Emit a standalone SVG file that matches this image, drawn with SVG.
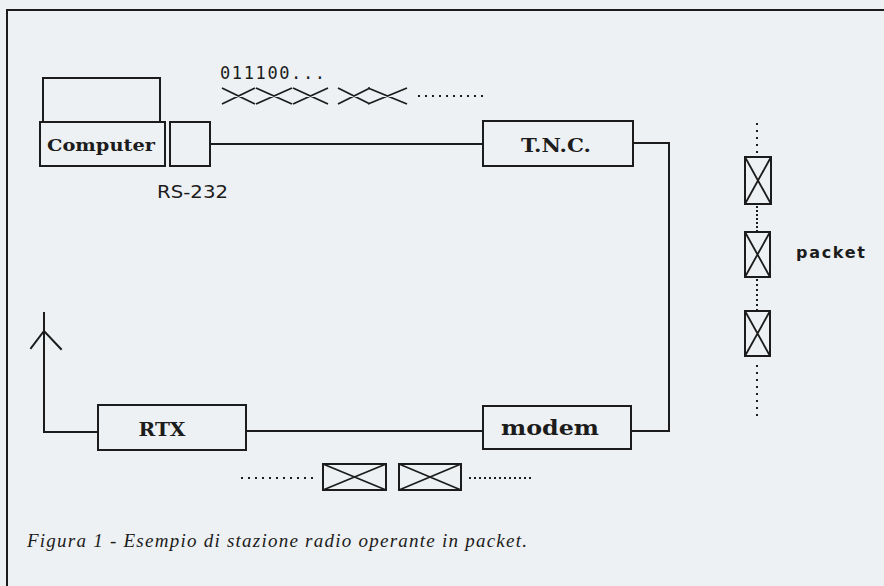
<svg xmlns="http://www.w3.org/2000/svg" width="884" height="586" viewBox="0 0 884 586">
<style>
.ln{fill:none;stroke:#1c1c1c;stroke-width:2;stroke-linecap:square}
.bx{fill:none;stroke:#1c1c1c;stroke-width:2}
.thin{fill:none;stroke:#1c1c1c;stroke-width:1.8}
.dot{fill:none;stroke:#1c1c1c;stroke-width:2;stroke-dasharray:2 5}
.lbl{font-family:"DejaVu Serif","Liberation Serif",serif;font-weight:bold;fill:#1c1c1c;text-anchor:middle}
.mono{font-family:"DejaVu Sans Mono","Liberation Mono",monospace;font-size:17px;fill:#1c1c1c}
.sans{font-family:"DejaVu Sans","Liberation Sans",sans-serif;fill:#1c1c1c}
</style>
<rect x="0" y="0" width="884" height="586" fill="#edf1f3"/>
<g id="frame">
<path class="ln" d="M7 586 V10 H884"/>
</g>
<g id="computer">
<rect class="bx" x="43" y="78" width="117" height="44"/>
<rect class="bx" x="40" y="122" width="125" height="44"/>
<text class="lbl" x="101" y="151" textLength="108" lengthAdjust="spacingAndGlyphs" style="font-size:17px">Computer</text>
</g>
<g id="rs232">
<rect class="bx" x="170" y="122" width="40" height="44"/>
<text class="sans" x="157" y="198" textLength="71" lengthAdjust="spacingAndGlyphs" style="font-size:17px">RS-232</text>
</g>
<g id="tnc">
<rect class="bx" x="483" y="121" width="150" height="45"/>
<text class="lbl" x="556" y="152" textLength="70" lengthAdjust="spacingAndGlyphs" style="font-size:19px">T.N.C.</text>
</g>
<g id="modem">
<rect class="bx" x="483" y="406" width="148" height="43"/>
<text class="lbl" x="550" y="435" textLength="98" lengthAdjust="spacingAndGlyphs" style="font-size:20px">modem</text>
</g>
<g id="rtx">
<rect class="bx" x="98" y="405" width="148" height="45"/>
<text class="lbl" x="162" y="436" textLength="47" lengthAdjust="spacingAndGlyphs" style="font-size:19px">RTX</text>
</g>
<g id="antenna">
<path class="ln" d="M31 348 L44 331 L61 349"/>
</g>
<g id="connectors">
<path class="ln" d="M210 144 H483"/>
<path class="ln" d="M633 143 H669 V431 H631"/>
<path class="ln" d="M483 431 H246"/>
<path class="ln" d="M98 432 H44 V313"/>
</g>
<g id="bitstream">
<text class="mono" x="220" y="79" textLength="105" lengthAdjust="spacing">011100...</text>
<path class="thin" d="M222 88 L255 104 M222 104 L255 88 M256 88 L292 104 M256 104 L292 88 M293 88 L328 104 M293 104 L328 88 M338 88 L370 104 M338 104 L370 88 M368 88 L407 104 M368 104 L407 88"/>
<path class="dot" d="M418 96 H488"/>
</g>
<g id="packets-right">
<path class="dot" d="M757 123 V156"/>
<rect class="bx" x="745" y="157" width="26" height="47"/>
<path class="thin" d="M745 157 L771 204 M771 157 L745 204"/>
<path class="dot" d="M757 206 V231" style="stroke-dasharray:2 2"/>
<rect class="bx" x="745" y="232" width="25" height="45"/>
<path class="thin" d="M745 232 L770 277 M770 232 L745 277"/>
<path class="dot" d="M757 279 V310" style="stroke-dasharray:2 3"/>
<rect class="bx" x="745" y="311" width="25" height="45"/>
<path class="thin" d="M745 311 L770 356 M770 311 L745 356"/>
<path class="dot" d="M757 365 V420"/>
<text class="sans" x="796" y="258" textLength="69" lengthAdjust="spacing" style="font-weight:bold;font-size:16px">packet</text>
</g>
<g id="packets-bottom">
<path class="dot" d="M241 478 H317"/>
<rect class="bx" x="323" y="464" width="63" height="26"/>
<path class="thin" d="M323 464 L386 490 M323 490 L386 464"/>
<rect class="bx" x="399" y="464" width="62" height="26"/>
<path class="thin" d="M399 464 L461 490 M399 490 L461 464"/>
<path class="dot" d="M469 478 H534" style="stroke-dasharray:2 3"/>
</g>
<g id="caption">
<text x="27" y="547" textLength="500" lengthAdjust="spacing" style="font-family:'Liberation Serif',serif;font-style:italic;font-size:19px;fill:#1c1c1c">Figura 1 - Esempio di stazione radio operante in packet.</text>
</g>
</svg>
